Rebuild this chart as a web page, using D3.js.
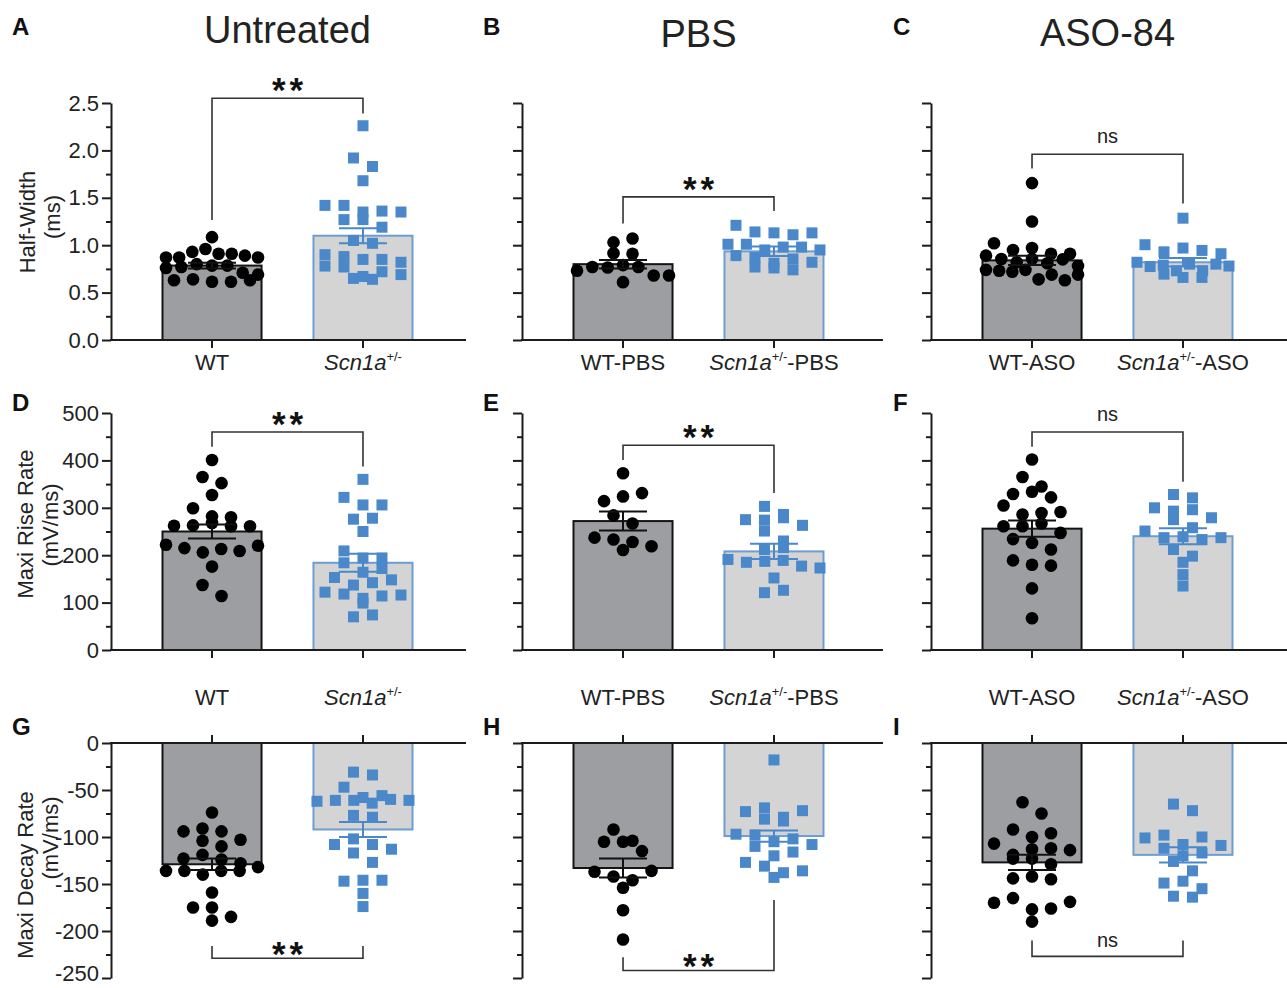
<!DOCTYPE html>
<html>
<head>
<meta charset="utf-8">
<script src="https://cdn.jsdelivr.net/npm/d3@7"></script>
<style>
  body { margin: 0; background: #fff; }
  svg { display: block; font-family: "Liberation Sans", Arial, Helvetica, sans-serif; }
</style>
</head>
<body>
<svg id="chart" width="1287" height="988"></svg>
<script>
const columnTitles = ["Untreated", "PBS", "ASO-84"];
const panelLetters = [["A", "B", "C"], ["D", "E", "F"], ["G", "H", "I"]];
const measureNames = [["Half-Width", "(ms)"], ["Maxi Rise Rate", "(mV/ms)"], ["Maxi Decay Rate", "(mV/ms)"]];
const wtLabels = ["WT", "WT-PBS", "WT-ASO"];
const hetSuffixes = ["", "-PBS", "-ASO"];

const yDomains = [[0, 2.5], [0, 500], [-250, 0]];
const majorTicks = [[0, 0.5, 1, 1.5, 2, 2.5], [0, 100, 200, 300, 400, 500], [0, -50, -100, -150, -200, -250]];
const minorTicks = [[0.25, 0.75, 1.25, 1.75, 2.25], [50, 150, 250, 350, 450], [-25, -75, -125, -175, -225]];

// half-width (ms), per column: untreated, PBS, ASO
const halfWidthWT = [
  [1.085, 0.87, 0.87, 0.93, 0.96, 0.91, 0.91, 0.89, 0.87, 0.76, 0.77, 0.80, 0.785, 0.785, 0.63, 0.64, 0.71, 0.615, 0.69, 0.615, 0.63],
  [1.03, 1.07, 0.915, 0.91, 0.73, 0.77, 0.765, 0.79, 0.77, 0.68, 0.68, 0.61],
  [1.655, 1.25, 1.02, 0.95, 0.97, 0.91, 0.89, 0.91, 0.855, 0.82, 0.855, 0.81, 0.85, 0.74, 0.73, 0.72, 0.78, 0.74, 0.64, 0.69, 0.63, 0.69],
];
const halfWidthHet = [
  [2.26, 1.92, 1.83, 1.68, 1.42, 1.42, 1.35, 1.36, 1.35, 1.27, 1.27, 1.19, 1.05, 1.02, 0.9, 0.78, 0.65, 0.88, 0.77, 0.85, 0.67, 0.72, 0.85, 0.64, 0.82, 0.69],
  [1.21, 1.14, 1.13, 1.11, 1.13, 1.01, 1.01, 0.89, 0.95, 0.98, 0.98, 0.95, 0.87, 0.77, 0.76, 0.81, 0.855, 0.74, 0.82],
  [1.285, 1.005, 0.93, 0.97, 0.945, 0.91, 0.82, 0.775, 0.79, 0.73, 0.80, 0.695, 0.73, 0.80, 0.78, 0.66, 0.66],
];
const halfWidthMeans = [[0.785, 1.10], [0.80, 0.935], [0.84, 0.82]];
const halfWidthSems = [[0.03, 0.08], [0.045, 0.05], [0.05, 0.045]];

// maximal rise rate (mV/ms)
const riseWT = [
  [401, 365, 352, 327, 299, 282, 280, 262, 263, 268, 261, 261, 222, 215, 206, 213, 209, 220, 176, 137, 114],
  [373, 314, 324, 331, 284, 267, 237, 233, 228, 219, 211],
  [402, 365, 345, 329, 334, 305, 322, 286, 289, 291, 261, 261, 267, 247, 234, 226, 212, 189, 180, 178, 130, 67],
];
const riseHet = [
  [360, 322, 306, 306, 276, 278, 250, 209, 194, 194, 184, 164, 172, 153, 137, 142, 148, 122, 118, 109, 114, 116, 99, 70, 74],
  [303, 286, 275, 274, 279, 263, 251, 230, 212, 216, 191, 185, 187, 189, 177, 173, 152, 121, 126],
  [328, 321, 300, 293, 296, 279, 275, 258, 251, 237, 239, 233, 237, 212, 198, 185, 159, 135],
];
const riseMeans = [[250, 184], [272, 208], [256, 240]];
const riseSems = [[15, 19], [20, 16], [17, 17]];

// maximal decay rate (mV/ms)
const decayWT = [
  [-74, -94, -91, -94, -104, -103, -110, -123, -119, -124, -128, -136, -136, -140, -136, -136, -132, -159, -175, -175, -189, -185],
  [-92, -105, -105, -104, -115, -137, -142, -146, -136, -154, -178, -209],
  [-63, -75, -92, -100, -96, -107, -119, -113, -112, -114, -123, -123, -129, -144, -142, -145, -170, -165, -177, -176, -169, -190],
];
const decayHet = [
  [-31, -34, -47, -62, -58, -61, -61, -56, -64, -60, -61, -77, -79, -108, -102, -108, -113, -117, -127, -147, -146, -146, -160, -174],
  [-18, -73, -81, -69, -79, -72, -83, -97, -98, -105, -102, -108, -110, -120, -116, -127, -131, -143, -138, -136],
  [-65, -72, -101, -98, -108, -100, -112, -109, -120, -117, -126, -136, -149, -147, -155, -163, -164],
];
const decayMeans = [[-129, -92], [-133, -99], [-127, -119]];
const decaySems = [[6, 8], [10, 6], [8, 8]];

// significance brackets: label, bracket level, left leg end, right leg end (data units)
const sigLabels = [["**", "**", "ns"], ["**", "**", "ns"], ["**", "**", "ns"]];
const bracketLevels = [[2.55, 1.51, 1.96], [460, 432, 460], [-229, -242, -227]];
const bracketLegs = [
  [[1.265, 2.39], [1.23, 1.36], [1.81, 1.44]],
  [[429, 387], [401, 331], [429, 355]],
  [[-216, -216], [-228, -167], [-210, -210]],
];

const wtValues = [halfWidthWT, riseWT, decayWT];
const hetValues = [halfWidthHet, riseHet, decayHet];
const meanValues = [halfWidthMeans, riseMeans, decayMeans];
const semValues = [halfWidthSems, riseSems, decaySems];

const ROW_RANGE = [[340, 103], [650, 413], [978, 743]];
const AXIS_X = [111, 522, 931];
const AXIS_END = [466, 883, 1287];
const CAT_BASELINE = [370, 705];
const TITLE_Y = [43, 47, 46];
const LETTER_X = [12, 483, 893];
const LETTER_Y = [35, 411, 735];
const BAR_FILL = ["#9d9ea1", "#d4d4d4"];
const BAR_STROKE = ["#141414", "#6d9dd3"];
const MARK_FILL = ["#000000", "#4a88c9"];
const INK = "#1c1c1c";
const tickFormats = [d3.format(".1f"), (d) => String(d), (d) => String(d)];
const yTitlePos = [
  [[27, 222], [52, 217]],
  [[25, 524], [50, 525]],
  [[25, 875], [50, 838]],
];

const svg = d3.select("#chart");

columnTitles.forEach((title, c) => {
  svg.append("text")
    .attr("x", AXIS_X[c] + 176.5)
    .attr("y", TITLE_Y[c])
    .attr("text-anchor", "middle")
    .attr("font-size", 38)
    .attr("fill", "#222")
    .text(title);
});

for (let r = 0; r < 3; r++) {
  for (let c = 0; c < 3; c++) {
    drawPanel(r, c);
  }
  drawYTitle(r);
}

function drawYTitle(r) {
  measureNames[r].forEach((line, k) => {
    const [cx, cy] = yTitlePos[r][k];
    svg.append("text")
      .attr("transform", `translate(${cx},${cy}) rotate(-90)`)
      .attr("text-anchor", "middle")
      .attr("dy", "0.35em")
      .attr("font-size", 22)
      .attr("fill", "#222")
      .text(line);
  });
}

function drawPanel(r, c) {
  const g = svg.append("g");
  const y = d3.scaleLinear().domain(yDomains[r]).range(ROW_RANGE[r]);
  const x = d3.scaleBand()
    .domain([0, 1])
    .range([AXIS_X[c] + 51.5, AXIS_X[c] + 301.5])
    .paddingInner(0.344);
  const y0 = y(0);
  const bw = x.bandwidth();
  const groups = [wtValues[r][c], hetValues[r][c]];
  const means = meanValues[r][c];
  const sems = semValues[r][c];
  const center = (i) => x(i) + bw / 2;

  g.append("g")
    .selectAll("rect")
    .data([0, 1])
    .join("rect")
    .attr("x", (i) => x(i))
    .attr("width", bw)
    .attr("y", (i) => Math.min(y(means[i]), y0))
    .attr("height", (i) => Math.abs(y(means[i]) - y0))
    .attr("fill", (i) => BAR_FILL[i])
    .attr("stroke", (i) => BAR_STROKE[i])
    .attr("stroke-width", 2);

  // WT circles
  g.append("g")
    .selectAll("circle")
    .data(swarm(groups[0], y, 11.5))
    .join("circle")
    .attr("cx", (p) => center(0) + p.x)
    .attr("cy", (p) => p.y)
    .attr("r", 6.3)
    .attr("fill", MARK_FILL[0]);

  // Scn1a squares
  const side = 11;
  g.append("g")
    .selectAll("rect")
    .data(swarm(groups[1], y, 10.5))
    .join("rect")
    .attr("x", (p) => center(1) + p.x - side / 2)
    .attr("y", (p) => p.y - side / 2)
    .attr("width", side)
    .attr("height", side)
    .attr("fill", MARK_FILL[1]);

  // mean +/- SEM
  const err = g.append("g").attr("stroke-width", 2);
  [0, 1].forEach((i) => {
    const color = i === 0 ? "#111" : "#4a88c9";
    const lo = y(means[i] - sems[i]);
    const hi = y(means[i] + sems[i]);
    err.append("line")
      .attr("x1", center(i)).attr("x2", center(i))
      .attr("y1", lo).attr("y2", hi)
      .attr("stroke", color);
    [lo, hi].forEach((yy) => {
      err.append("line")
        .attr("x1", center(i) - 24).attr("x2", center(i) + 24)
        .attr("y1", yy).attr("y2", yy)
        .attr("stroke", color);
    });
  });

  // y axis
  const yAxis = g.append("g")
    .attr("transform", `translate(${AXIS_X[c]},0)`)
    .call(
      d3.axisLeft(y)
        .tickValues(majorTicks[r])
        .tickSize(9)
        .tickSizeOuter(0)
        .tickPadding(3)
        .tickFormat(c === 0 ? tickFormats[r] : () => ""),
    );
  const yMinor = g.append("g")
    .attr("transform", `translate(${AXIS_X[c]},0)`)
    .call(d3.axisLeft(y).tickValues(minorTicks[r]).tickSize(5).tickFormat(() => ""));
  yMinor.select(".domain").remove();

  // x axis (top for decay row)
  const xAxisGen = (r === 2 ? d3.axisTop(x) : d3.axisBottom(x))
    .tickSize(8)
    .tickSizeOuter(0)
    .tickFormat(() => "");
  const xAxis = g.append("g").attr("transform", `translate(0,${y0})`).call(xAxisGen);
  xAxis.select(".domain").attr("d", `M${AXIS_X[c] - 1},0H${AXIS_END[c]}`);

  [yAxis, yMinor, xAxis].forEach((ax) => {
    ax.attr("font-family", null).attr("font-size", 22);
    ax.selectAll("path, line").attr("stroke", INK).attr("stroke-width", 2);
    ax.selectAll("text").attr("fill", "#222");
  });
  // keep the lowest label inside the picture
  yAxis.selectAll("text").filter((d) => d === -250).attr("dy", "0.12em");

  // category labels
  if (r < 2) {
    [0, 1].forEach((i) => {
      const label = g.append("text")
        .attr("x", center(i))
        .attr("y", CAT_BASELINE[r])
        .attr("text-anchor", "middle")
        .attr("font-size", 22)
        .attr("fill", "#222");
      if (i === 0) {
        label.text(wtLabels[c]);
      } else {
        label.append("tspan").attr("font-style", "italic").text("Scn1a");
        label.append("tspan").attr("font-size", 13).attr("dy", -9).text("+/-");
        label.append("tspan").attr("dy", 9).text(hetSuffixes[c]);
      }
    });
  }

  // significance bracket
  const level = y(bracketLevels[r][c]);
  const [legL, legR] = bracketLegs[r][c];
  g.append("path")
    .attr("d", `M${center(0)},${y(legL)}V${level}H${center(1)}V${y(legR)}`)
    .attr("fill", "none")
    .attr("stroke", "#333")
    .attr("stroke-width", 1.6);

  const sig = sigLabels[r][c];
  const mid = (center(0) + center(1)) / 2;
  if (sig === "ns") {
    g.append("text")
      .attr("x", mid)
      .attr("y", level - (r === 2 ? 9 : 11))
      .attr("text-anchor", "middle")
      .attr("font-size", 20)
      .attr("fill", "#222")
      .text(sig);
  } else {
    g.append("text")
      .attr("x", mid + 2)
      .attr("y", level + (r === 2 ? 8 : 4))
      .attr("text-anchor", "middle")
      .attr("font-size", 35)
      .attr("font-weight", "bold")
      .attr("letter-spacing", 4)
      .attr("fill", "#111")
      .text(sig);
  }

  // panel letter
  svg.append("text")
    .attr("x", LETTER_X[c])
    .attr("y", LETTER_Y[r])
    .attr("font-size", 24)
    .attr("font-weight", "bold")
    .attr("fill", "#111")
    .text(panelLetters[r][c]);
}

// Prism-style scatter: values fall into rows about one marker high,
// each row is spread side by side and centred on the bar
function swarm(values, yScale, rowHeight) {
  const maxHalf = 46;
  const maxStep = 19;
  const points = values.map((v, i) => ({ v, i, y: yScale(v), x: 0 }));
  const rows = [];
  for (const p of [...points].sort((a, b) => a.y - b.y)) {
    const row = rows[rows.length - 1];
    if (row && p.y - row[0].y < rowHeight) {
      row.push(p);
    } else {
      rows.push([p]);
    }
  }
  for (const row of rows) {
    row.sort((a, b) => a.i - b.i);
    const n = row.length;
    const step = n > 1 ? Math.min(maxStep, (2 * maxHalf) / (n - 1)) : 0;
    row.forEach((p, k) => {
      p.x = (k - (n - 1) / 2) * step;
    });
  }
  return points;
}
</script>
</body>
</html>
